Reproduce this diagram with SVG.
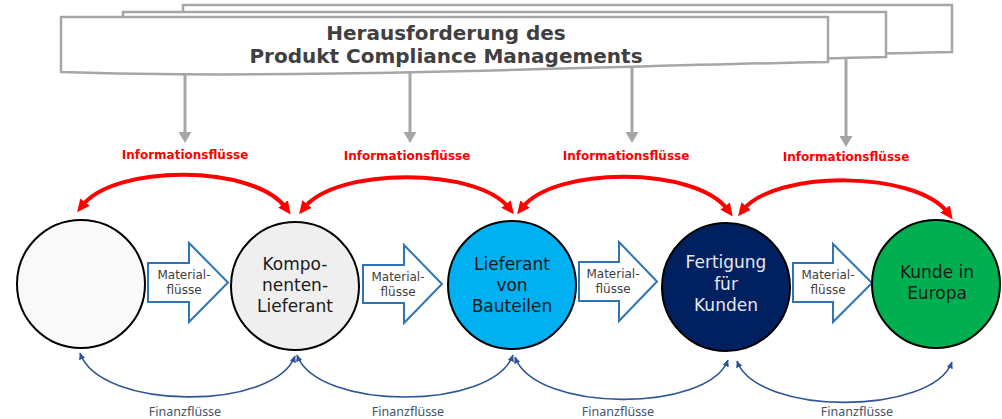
<svg xmlns="http://www.w3.org/2000/svg" width="1002" height="419" viewBox="0 0 1002 419">
<style>
.banner{fill:#fff;stroke:#a6a6a6;stroke-width:2.5}
.title{font-family:"DejaVu Sans",Verdana,sans-serif;font-weight:bold;font-size:20px;fill:#404040;text-anchor:middle}
.grayln{fill:none;stroke:#a6a6a6;stroke-width:3}
.info{fill:none;stroke:#ff0000;stroke-width:4}
.infolbl{font-family:"DejaVu Sans",Verdana,sans-serif;font-weight:bold;font-size:12px;fill:#ff0000;text-anchor:middle}
.fin{fill:none;stroke:#2f5597;stroke-width:1.6}
.finlbl{font-family:"Noto Sans","Open Sans",sans-serif;font-size:12.5px;fill:#44546a;text-anchor:middle}
.mat{fill:#fff;stroke:#2e75b6;stroke-width:2;stroke-linejoin:miter}
.matlbl{font-family:"DejaVu Sans",Verdana,sans-serif;font-size:12px;fill:#404040;text-anchor:middle}
.node{stroke:#000;stroke-width:2}
.ntxt{font-family:"DejaVu Sans",Verdana,sans-serif;font-size:17px;text-anchor:middle}
</style>
<defs>
<marker id="grayHead" markerUnits="userSpaceOnUse" markerWidth="14" markerHeight="14" viewBox="0 0 14 14" refX="4" refY="7" orient="auto">
<path d="M0,0.5 L11,7 L0,13.5 z" fill="#a6a6a6"/>
</marker>
<marker id="redHead" markerUnits="userSpaceOnUse" markerWidth="16" markerHeight="16" viewBox="0 0 16 16" refX="5" refY="8" orient="auto-start-reverse">
<path d="M0,2 L13,8 L0,14 z" fill="#ff0000"/>
</marker>
<marker id="blueHead" markerUnits="userSpaceOnUse" markerWidth="8" markerHeight="8" viewBox="0 0 8 8" refX="6.5" refY="4" orient="auto-start-reverse">
<path d="M0,0.8 L7,4 L0,7.2 z" fill="#2f5597"/>
</marker>
</defs>

<g id="connectors">
<g id="challenge-arrows">
<path class="grayln" d="M185,66 V136" marker-end="url(#grayHead)"/>
<path class="grayln" d="M410,66 V136" marker-end="url(#grayHead)"/>
<path class="grayln" d="M632,62 V136" marker-end="url(#grayHead)"/>
<path class="grayln" d="M846,54 V140" marker-end="url(#grayHead)"/>
</g>
<g id="information-flows">
<path class="info" d="M82,206 C114,164 254,164 286,208" marker-start="url(#redHead)" marker-end="url(#redHead)"/>
<path class="info" d="M304,208 C336,167 477,167 509,208" marker-start="url(#redHead)" marker-end="url(#redHead)"/>
<path class="info" d="M522,208 C554,166 696,166 728,210" marker-start="url(#redHead)" marker-end="url(#redHead)"/>
<path class="info" d="M743,210 C775,170 916,170 948,213" marker-start="url(#redHead)" marker-end="url(#redHead)"/>
<text class="infolbl" x="185" y="159">Informationsflüsse</text>
<text class="infolbl" x="407" y="160">Informationsflüsse</text>
<text class="infolbl" x="626" y="160">Informationsflüsse</text>
<text class="infolbl" x="846" y="161">Informationsflüsse</text>
</g>
<g id="financial-flows">
<path class="fin" d="M80,353 C100,411 275,411 295,356" marker-start="url(#blueHead)" marker-end="url(#blueHead)"/>
<path class="fin" d="M297,355 C317,411 493,411 513,355" marker-start="url(#blueHead)" marker-end="url(#blueHead)"/>
<path class="fin" d="M515,357 C535,413 708,413 728,360" marker-start="url(#blueHead)" marker-end="url(#blueHead)"/>
<path class="fin" d="M737,361 C757,416 932,416 952,362" marker-start="url(#blueHead)" marker-end="url(#blueHead)"/>
<text class="finlbl" x="185" y="416">Finanzflüsse</text>
<text class="finlbl" x="408" y="416">Finanzflüsse</text>
<text class="finlbl" x="618" y="416">Finanzflüsse</text>
<text class="finlbl" x="857" y="416">Finanzflüsse</text>
</g>
<g id="material-flows">
<polygon class="mat" points="148,263 189,263 189,243 228,282.5 189,322 189,302 148,302"/>
<text class="matlbl" x="184" y="279">Material-</text>
<text class="matlbl" x="184" y="294">flüsse</text>
<polygon class="mat" points="363,265 404,265 404,245 442,284 404,323 404,303 363,303"/>
<text class="matlbl" x="398" y="281">Material-</text>
<text class="matlbl" x="398" y="296">flüsse</text>
<polygon class="mat" points="579,262 619,262 619,242 657,281.5 619,321 619,301 579,301"/>
<text class="matlbl" x="613" y="278">Material-</text>
<text class="matlbl" x="613" y="293">flüsse</text>
<polygon class="mat" points="793,263 833,263 833,244 872,283 833,322 833,302 793,302"/>
<text class="matlbl" x="828" y="279">Material-</text>
<text class="matlbl" x="828" y="294">flüsse</text>
</g>
</g>

<g id="challenge">
<path class="banner" d="M183,5 H952 V52 C760,56 460,68 183,62 Z"/>
<path class="banner" d="M123,12 H886 V57 C700,61 400,73 123,67 Z"/>
<path class="banner" d="M61,17 H828 V62 C600,66 300,80 61,72 Z"/>
<text class="title" x="446" y="40">Herausforderung des</text>
<text class="title" x="446" y="63">Produkt Compliance Managements</text>
</g>

<g id="node-1">
<circle class="node" cx="81" cy="284" r="64" fill="#f9f9f9"/>
</g>
<g id="node-2">
<circle class="node" cx="295" cy="286" r="64" fill="#efefef"/>
<text class="ntxt" fill="#1a1a1a"><tspan x="295" y="270">Kompo-</tspan><tspan x="295" y="291">nenten-</tspan><tspan x="295" y="312">Lieferant</tspan></text>
</g>
<g id="node-3">
<circle class="node" cx="512" cy="285" r="64" fill="#00b0f0"/>
<text class="ntxt" fill="#1a1a1a"><tspan x="512" y="270">Lieferant</tspan><tspan x="512" y="291">von</tspan><tspan x="512" y="312">Bauteilen</tspan></text>
</g>
<g id="node-4">
<circle class="node" cx="726" cy="287" r="64" fill="#002060"/>
<text class="ntxt" fill="#e6e6e6"><tspan x="726" y="268">Fertigung</tspan><tspan x="726" y="290">für</tspan><tspan x="726" y="311">Kunden</tspan></text>
</g>
<g id="node-5">
<circle class="node" cx="936" cy="284" r="64" fill="#00b050"/>
<text class="ntxt" fill="#1a1a1a"><tspan x="937" y="278">Kunde in</tspan><tspan x="937" y="299">Europa</tspan></text>
</g>
</svg>
